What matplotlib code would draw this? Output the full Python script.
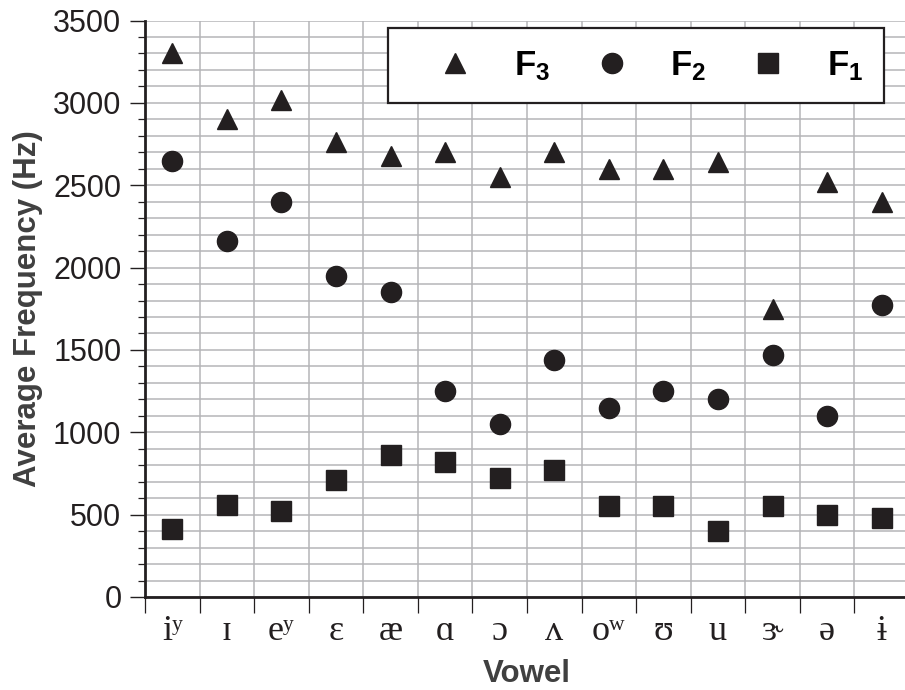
import numpy as np
import matplotlib
matplotlib.use("Agg")
import matplotlib.pyplot as plt

plt.rcParams["font.family"] = ["Liberation Sans", "DejaVu Sans"]
plt.rcParams["mathtext.fontset"] = "custom"
plt.rcParams["mathtext.bf"] = "Liberation Sans:bold"
plt.rcParams["mathtext.rm"] = "Liberation Sans"

# vowels (IPA) and average formant frequencies (Hz)
vowels = ["iʸ", "ɪ", "eʸ", "ɛ", "æ", "ɑ", "ɔ", "ʌ", "oʷ", "ʊ", "u", "ɝ", "ə", "ɨ"]
f3 = [3300, 2900, 3020, 2760, 2680, 2700, 2550, 2700, 2600, 2600, 2640, 1750, 2520, 2400]
f2 = [2650, 2160, 2400, 1950, 1850, 1250, 1050, 1440, 1150, 1250, 1200, 1470, 1100, 1770]
f1 = [415, 560, 525, 710, 860, 820, 720, 770, 550, 550, 400, 550, 500, 480]

ink = "#231f20"
grid_col = "#b5b5b8"

fig = plt.figure(figsize=(9.05, 6.9), dpi=100)
ax = fig.add_axes([145 / 905, 93 / 690, 764 / 905, 576.5 / 690])

x = np.arange(len(vowels)) + 0.5
ms = 14.5
h3, = ax.plot(x, f3, linestyle="none", marker="^", ms=ms, color=ink, label=r"$\mathbf{F_3}$")
h2, = ax.plot(x, f2, linestyle="none", marker="o", ms=ms, color=ink, label=r"$\mathbf{F_2}$")
h1, = ax.plot(x, f1, linestyle="none", marker="s", ms=ms - 0.5, color=ink, label=r"$\mathbf{F_1}$")

ax.set_xlim(0, len(vowels))
ax.set_ylim(0, 3500)

# x: labels centred in each cell, ticks on the cell borders
ax.set_xticks(x)
ax.set_xticklabels(vowels, family=["Liberation Serif", "DejaVu Serif"], fontsize=26, color=ink)
ax.set_xticks(np.arange(0, len(vowels) + 1), minor=True)
ax.tick_params(axis="x", which="major", length=0, pad=13)
ax.tick_params(axis="x", which="minor", length=11.5, width=0.9, color=ink, direction="out")

ax.set_yticks(np.arange(0, 3501, 500))
ax.set_yticks(np.arange(0, 3501, 100), minor=True)
ax.tick_params(axis="y", which="major", length=11, width=1.0, color=ink, labelsize=22,
               labelcolor=ink, pad=6)
ax.tick_params(axis="y", which="minor", length=5, width=0.9, color=ink)

ax.grid(True, axis="x", which="minor", color=grid_col, lw=1.1)
ax.grid(True, axis="y", which="both", color=grid_col, lw=1.1)
ax.set_axisbelow(True)

for s in ["top", "right"]:
    ax.spines[s].set_visible(False)
for s in ["left", "bottom"]:
    ax.spines[s].set_linewidth(2.0)
    ax.spines[s].set_color(ink)

ax.set_xlabel("Vowel", fontsize=22.5, fontweight="bold", color="#404040", labelpad=8)
ax.set_ylabel("Average Frequency (Hz)", fontsize=22.5, fontweight="bold", color="#404040",
              labelpad=7)

leg = ax.legend(handles=[h3, h2, h1], ncol=3, loc="upper right",
                bbox_to_anchor=(884 / 905, 1 - 28 / 690), bbox_transform=fig.transFigure,
                fontsize=25, frameon=True, fancybox=False, framealpha=1,
                borderpad=0.6, handlelength=2.67, handletextpad=0.35, columnspacing=0.45,
                borderaxespad=0, markerscale=1.0)
leg.get_frame().set_edgecolor(ink)
leg.get_frame().set_linewidth(1.6)

fig.savefig("out.png", dpi=100)
